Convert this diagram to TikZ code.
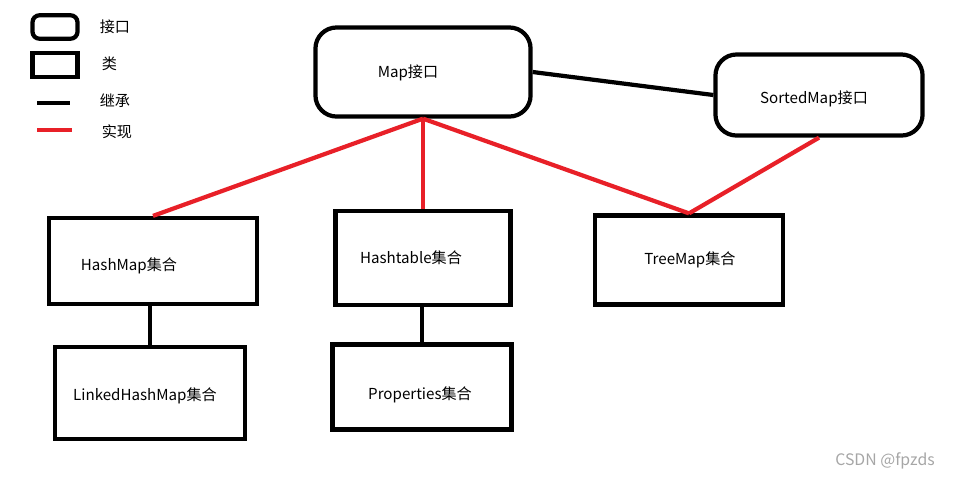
\documentclass[tikz,border=0pt]{standalone}
\usepackage{fontspec}
\setmainfont{Noto Sans CJK SC}
\usetikzlibrary{positioning}

\begin{document}
\begin{tikzpicture}[x=0.01cm, y=-0.01cm, every path/.style={line width=1.2pt},
  every node/.style={font=\fontsize{4.3}{5}\selectfont},
  iface/.style={draw=black, rounded corners=6pt, minimum width=#1},
  cls/.style={draw=black, minimum width=#1},
  impl/.style={draw={rgb,255:red,232;green,32;blue,40}},
  inh/.style={draw=black}]
\useasboundingbox (0,0) rectangle (962,481);

% --- legend ---
\node[iface=0.45cm, minimum height=0.21cm, rounded corners=2pt] (lgi) at (55,27) {};
\node[anchor=west] at (86,27) {接口};
\node[cls=0.45cm, minimum height=0.23cm] (lgc) at (55,65) {};
\node[anchor=west] at (88,64) {类};
\coordinate (lgh1) at (37,103); \coordinate (lgh2) at (70,103);
\draw[inh] (lgh1) -- (lgh2);
\node[anchor=west] at (86,101) {继承};
\coordinate (lgr1) at (37,130); \coordinate (lgr2) at (72,130);
\draw[impl] (lgr1) -- (lgr2);
\node[anchor=west] at (88,132) {实现};

% --- interfaces ---
\node[iface=2.15cm, minimum height=0.89cm] (map) at (423,72) {};
\node at (408,73) {Map接口};
\node[iface=2.07cm, minimum height=0.81cm] (sorted) at (819,95) {};
\node at (814,99) {SortedMap接口};

% --- classes ---
\node[cls=2.08cm, minimum height=0.86cm] (hashmap) at (153,261) {};
\node at (129,266) {HashMap集合};
\node[cls=1.75cm, minimum height=0.94cm] (hashtable) at (423,258) {};
\node at (411,258) {Hashtable集合};
\node[cls=1.88cm, minimum height=0.89cm] (treemap) at (689,260) {};
\node at (690,260) {TreeMap集合};
\node[cls=1.9cm, minimum height=0.92cm] (linked) at (150,393) {};
\node at (145,396) {LinkedHashMap集合};
\node[cls=1.79cm, minimum height=0.85cm] (props) at (422,387) {};
\node at (420,395) {Properties集合};

% --- connectors ---
\draw[inh] (map.east) -- (sorted.west);
\draw[impl] (map.south) -- (hashmap.north);
\draw[impl] (map.south) -- (hashtable.north);
\draw[impl] (map.south) -- (treemap.north);
\draw[impl] (sorted.south) -- (treemap.north);
\draw[inh] (linked.north) -- (linked.north |- hashmap.south);
\draw[inh] (props.north) -- (props.north |- hashtable.south);

\node[text=gray!70, font=\fontsize{4.5}{5}\selectfont] at (885,461) {CSDN @fpzds};
\end{tikzpicture}
\end{document}
